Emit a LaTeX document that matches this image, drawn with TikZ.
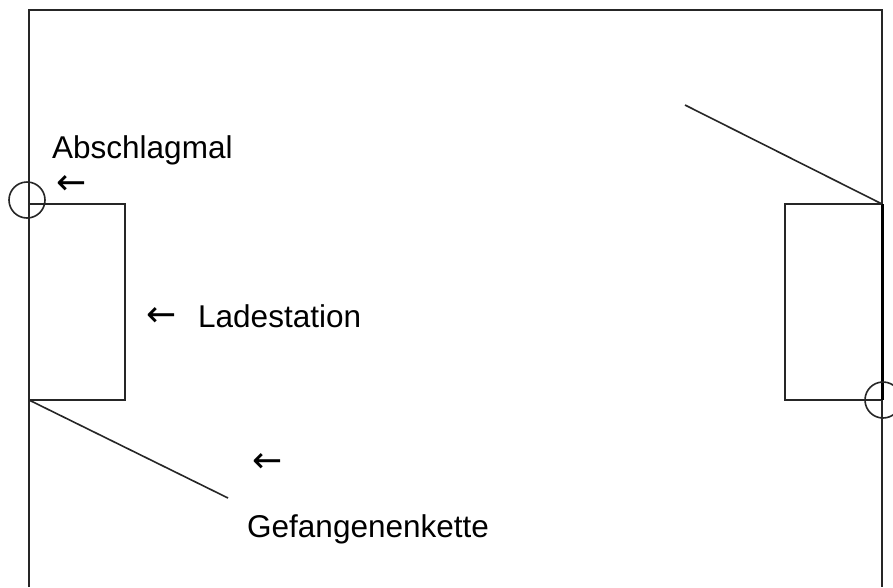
\documentclass[tikz,border=0pt]{standalone}
\usepackage{fontspec}
\setmainfont{Liberation Sans}
\newfontfamily\arrowfont{DejaVu Sans}
\begin{document}
\begin{tikzpicture}[x=1pt,y=-1pt,
  field/.style={draw=black!85,line width=1.6pt},
  label/.style={anchor=base west,inner sep=0pt,font=\fontsize{31.5}{31.5}\selectfont},
  pointer/.style={inner sep=0pt,font=\arrowfont\fontsize{36}{36}\selectfont}]
  \useasboundingbox[fill=white] (0,0) rectangle (893,587);
  % field outline (open at the bottom)
  \draw[field] (29,587) -- (29,10) -- (882,10) -- (882,587);
  % charging stations
  \draw[field] (29,204) rectangle (125,400);
  \draw[field] (785,204) rectangle (882,400);
  \draw[draw=black,line width=3pt] (882,204) -- (882,400);
  % tee-off marks
  \draw[field] (27,200) circle[radius=18];
  \draw[field] (883,400) circle[radius=18];
  % prisoner chains
  \coordinate (chainL) at (228,498);
  \coordinate (chainR) at (685,105);
  \draw[field] (29,400) -- (chainL);
  \draw[field] (882,204) -- (chainR);
  % labels
  \node[label] (abschlag) at (52,158) {Abschlagmal};
  \node[pointer] (pa) at (72,185) {←};
  \node[label] (lade) at (198,327) {Ladestation};
  \node[pointer] (pl) at (162,317) {←};
  \node[label] (gef) at (247,537) {Gefangenenkette};
  \node[pointer] (pg) at (268,463) {←};
\end{tikzpicture}
\end{document}
